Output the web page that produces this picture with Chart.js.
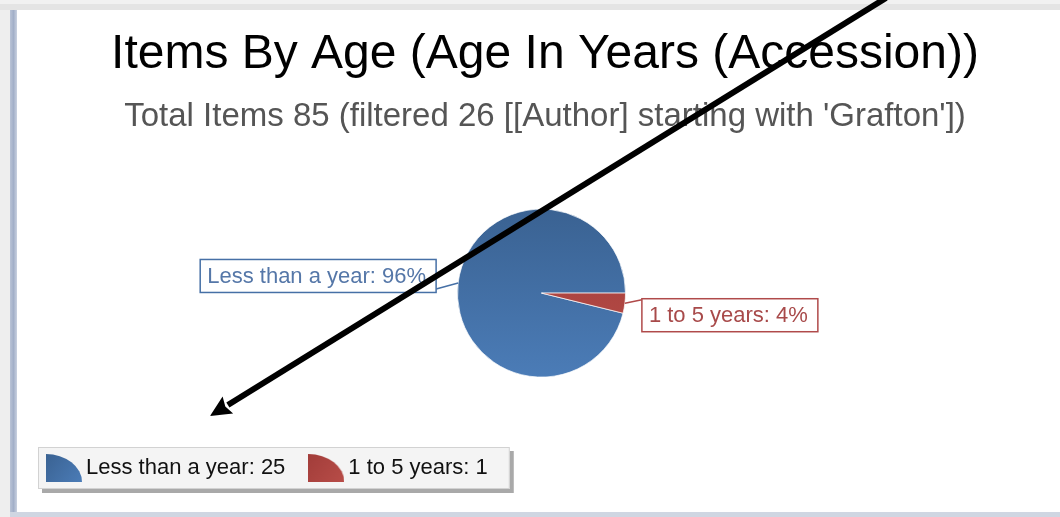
<!DOCTYPE html>
<html>
<head>
<meta charset="utf-8">
<script src="https://cdn.jsdelivr.net/npm/chart.js@4.4.0/dist/chart.umd.min.js"></script>
<style>
  html, body { margin: 0; padding: 0; background: #fff; overflow: hidden; }
  canvas { display: block; }
</style>
</head>
<body>
<canvas id="myChart" width="1060" height="517"></canvas>
<script>
const categories = ['Less than a year', '1 to 5 years'];
const counts = [25, 1];
const chartTitle = 'Items By Age (Age In Years (Accession))';
const chartSubtitle = "Total Items 85 (filtered 26 [[Author] starting with 'Grafton'])";

const sliceTop = ['#3a6292', '#a23d3a'];
const sliceBottom = ['#4b7cb7', '#b84d48'];
const labelText = ['#5577a8', '#a84a4a'];
const labelBorder = ['#4670a6', '#b04a4a'];

const FONT = '"Liberation Sans", Arial, sans-serif';
const pieRadius = 84;

const total = counts.reduce((a, b) => a + b, 0);
// last slice starts at 3 o'clock and runs clockwise
const startRotation = 90 + 360 * counts[counts.length - 1] / total;

function sliceFill(c) {
  const chart = c.chart;
  const a = chart.chartArea;
  if (!a) return sliceTop[c.dataIndex];
  const cy = (a.top + a.bottom) / 2;
  const g = chart.ctx.createLinearGradient(0, cy - pieRadius, 0, cy + pieRadius);
  g.addColorStop(0, sliceTop[c.dataIndex]);
  g.addColorStop(1, sliceBottom[c.dataIndex]);
  return g;
}

// quarter-pie legend swatches
function makeSwatch(i) {
  const c = document.createElement('canvas');
  c.width = 36; c.height = 28;
  const x = c.getContext('2d');
  const g = x.createLinearGradient(0, 0, 36, 28);
  g.addColorStop(0, sliceTop[i]);
  g.addColorStop(1, sliceBottom[i]);
  x.fillStyle = g;
  x.beginPath();
  x.moveTo(0, 28);
  x.ellipse(0, 28, 36, 28, 0, -Math.PI / 2, 0);
  x.closePath();
  x.fill();
  return c;
}
const swatches = categories.map((c, i) => makeSwatch(i));

const framePlugin = {
  id: 'frame',
  beforeDraw(chart) {
    const ctx = chart.ctx;
    const W = chart.width, H = chart.height;
    ctx.save();
    ctx.fillStyle = '#fff';
    ctx.fillRect(0, 0, W, H);
    // window edges
    ctx.fillStyle = '#f1f1f1';
    ctx.fillRect(0, 0, W, 4);
    ctx.fillStyle = '#e4e4e4';
    ctx.fillRect(0, 4, W, 6);
    ctx.fillStyle = '#eeeeee';
    ctx.fillRect(0, 10, 10, H - 10);
    const lg = ctx.createLinearGradient(10, 0, 17, 0);
    lg.addColorStop(0, '#b9c3d6');
    lg.addColorStop(0.5, '#a2afc8');
    lg.addColorStop(1, '#c9d1e0');
    ctx.fillStyle = lg;
    ctx.fillRect(10, 10, 7, H - 10);
    ctx.fillStyle = '#cfd6e2';
    ctx.fillRect(10, H - 5, W - 10, 5);

    // legend panel
    const lgd = chart.legend;
    if (lgd && lgd.lineWidths) {
      const left = lgd.left + 15;
      const top = lgd.top + 20;
      const right = lgd.left + lgd.lineWidths[0] + 22;
      const bottom = lgd.top + 62;
      ctx.fillStyle = '#a9a9a9';
      ctx.fillRect(left + 4, top + 4, right - left, bottom - top);
      ctx.fillStyle = '#f4f4f4';
      ctx.fillRect(left, top, right - left, bottom - top);
      ctx.strokeStyle = '#d2d2d2';
      ctx.lineWidth = 1;
      ctx.strokeRect(left + 0.5, top + 0.5, right - left - 1, bottom - top - 1);
    }
    ctx.restore();
  }
};

const calloutPlugin = {
  id: 'callouts',
  afterDatasetsDraw(chart) {
    const ctx = chart.ctx;
    const meta = chart.getDatasetMeta(0);
    ctx.save();
    ctx.font = '22px ' + FONT;
    ctx.textBaseline = 'middle';
    meta.data.forEach((arc, i) => {
      const p = arc.getProps(['x', 'y', 'startAngle', 'endAngle', 'outerRadius'], true);
      const mid = (p.startAngle + p.endAngle) / 2;
      const ex = p.x + Math.cos(mid) * p.outerRadius;
      const ey = p.y + Math.sin(mid) * p.outerRadius;
      const text = categories[i] + ': ' + Math.round(counts[i] / total * 100) + '%';
      const w = ctx.measureText(text).width + 17;
      const h = 33;
      let bx, by, lx, ly;
      if (Math.cos(mid) < 0) {
        bx = ex - 22 - w; by = ey - 7 - h / 2; lx = ex - 22; ly = ey + 6;
      } else {
        bx = ex + 17; by = ey + 12 - h / 2; lx = bx; ly = by + 1;
      }
      ctx.strokeStyle = labelBorder[i];
      ctx.lineWidth = 1.5;
      ctx.beginPath();
      ctx.moveTo(ex, ey);
      ctx.lineTo(lx, ly);
      ctx.stroke();
      ctx.fillStyle = '#fff';
      ctx.fillRect(bx, by, w, h);
      ctx.strokeRect(bx, by, w, h);
      ctx.fillStyle = labelText[i];
      ctx.fillText(text, bx + 7, by + h / 2 + 1);
    });
    ctx.restore();
  }
};

// the black pointer drawn over the screenshot
const arrowPlugin = {
  id: 'arrow',
  afterDraw(chart) {
    const ctx = chart.ctx;
    const sx = 886, sy = -2, tx = 210, ty = 416;
    const len = Math.hypot(sx - tx, sy - ty);
    const dx = (sx - tx) / len, dy = (sy - ty) / len;
    const headLen = 21, headW = 10;
    const bx = tx + dx * headLen, by = ty + dy * headLen;
    ctx.save();
    ctx.strokeStyle = '#000';
    ctx.lineWidth = 6;
    ctx.beginPath();
    ctx.moveTo(sx, sy);
    ctx.lineTo(bx, by);
    ctx.stroke();
    ctx.fillStyle = '#000';
    ctx.beginPath();
    ctx.moveTo(tx, ty);
    ctx.lineTo(bx - dy * headW, by + dx * headW);
    ctx.lineTo(bx + dx * -3, by + dy * -3);
    ctx.lineTo(bx + dy * headW, by - dx * headW);
    ctx.closePath();
    ctx.fill();
    ctx.restore();
  }
};

const data = {
  labels: categories,
  datasets: [{
    data: counts,
    backgroundColor: sliceFill,
    borderColor: 'rgba(255,255,255,0.7)',
    borderWidth: 1,
    radius: pieRadius
  }]
};

const config = {
  type: 'pie',
  data: data,
  options: {
    responsive: false,
    animation: false,
    rotation: startRotation,
    layout: {
      padding: { top: 10, left: 23, right: -7, bottom: 28 }
    },
    plugins: {
      title: {
        display: true,
        text: chartTitle,
        color: '#000',
        font: { family: FONT, size: 48, weight: 'normal' },
        padding: { top: 16, bottom: 14 }
      },
      subtitle: {
        display: true,
        text: chartSubtitle,
        color: '#555',
        font: { family: FONT, size: 33, weight: 'normal' },
        padding: { top: 0, bottom: 22 }
      },
      legend: {
        position: 'bottom',
        align: 'start',
        labels: {
          usePointStyle: true,
          pointStyleWidth: 22,
          boxHeight: 22,
          padding: 30,
          color: '#111',
          font: { family: FONT, size: 22 },
          generateLabels: () => categories.map((c, i) => ({
            text: c + ': ' + counts[i],
            pointStyle: swatches[i],
            fillStyle: sliceTop[i],
            strokeStyle: 'transparent',
            lineWidth: 0,
            hidden: false,
            index: i,
            fontColor: '#111'
          }))
        }
      },
      tooltip: { enabled: false }
    }
  },
  plugins: [framePlugin, calloutPlugin, arrowPlugin]
};

const myChart = new Chart(document.getElementById('myChart'), config);
</script>
</body>
</html>
